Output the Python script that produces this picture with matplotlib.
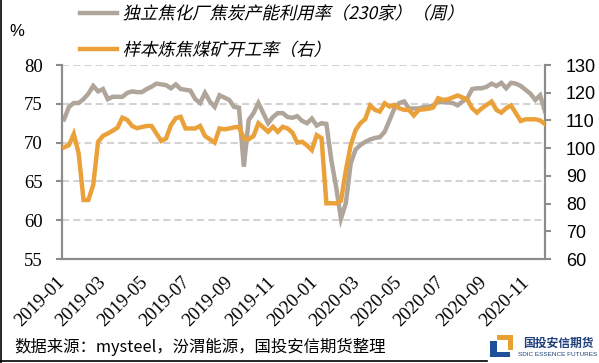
import matplotlib
matplotlib.use("Agg")
import matplotlib.pyplot as plt
import matplotlib.dates as mdates
from matplotlib.lines import Line2D
from matplotlib.patches import Rectangle
from matplotlib.patheffects import AbstractPathEffect
from matplotlib.transforms import Affine2D
import pandas as pd

plt.rcParams['font.family'] = ['Noto Sans CJK SC', 'DejaVu Sans']

# ---- data ----
start_date = '2019-01-04'
n_weeks = 100
coke_util = [73.0, 74.6, 75.1, 75.1, 75.6, 76.3, 77.3, 76.6, 76.9, 75.6,
             75.9, 75.9, 75.9, 76.4, 76.6, 76.5, 76.5, 76.9, 77.2, 77.6,
             77.5, 77.4, 77.0, 77.5, 76.9, 76.8, 76.7, 75.6, 75.1, 76.4,
             75.3, 74.6, 76.1, 75.8, 75.5, 74.6, 74.5, 66.9, 72.9, 73.8,
             75.1, 73.8, 72.5, 73.3, 73.8, 73.8, 73.3, 73.2, 73.4, 72.8,
             72.5, 73.1, 72.2, 72.5, 72.4, 67.8, 64.3, 60.2, 62.2, 67.3,
             69.1, 69.7, 70.1, 70.4, 70.6, 70.7, 71.4, 72.9, 74.4, 75.1,
             75.3, 74.4, 74.4, 74.4, 74.6, 74.6, 74.8, 75.3, 75.2, 75.2,
             75.1, 74.8, 75.3, 75.7, 76.9, 77.0, 77.0, 77.2, 77.6, 77.3,
             77.7, 77.0, 77.7, 77.6, 77.3, 76.8, 76.3, 75.5, 76.1, 74.0]
mine_util = [100.3, 101.1, 105.1, 98.1, 81.3, 81.3, 86.7, 102.3, 104.4, 105.3,
             106.3, 107.4, 111.0, 110.2, 108.0, 107.2, 107.6, 108.0, 108.0, 105.3,
             102.6, 103.5, 108.3, 110.8, 111.3, 107.1, 107.1, 107.1, 108.0, 104.4,
             103.2, 102.0, 107.1, 106.8, 107.1, 107.5, 107.7, 103.5, 103.2, 104.4,
             109.0, 107.5, 105.9, 107.7, 105.9, 107.7, 107.1, 105.6, 102.0, 102.3,
             101.0, 99.3, 104.7, 103.6, 80.1, 80.1, 80.1, 81.0, 92.0, 101.0,
             106.5, 109.0, 110.5, 115.4, 113.8, 113.2, 116.2, 115.0, 115.6, 114.4,
             113.8, 113.8, 111.8, 113.8, 114.0, 114.2, 114.7, 118.0, 117.4, 117.6,
             118.3, 119.0, 118.3, 117.6, 114.4, 112.8, 114.4, 115.6, 116.8, 113.8,
             112.8, 114.4, 115.4, 112.6, 109.8, 110.4, 110.4, 110.4, 110.0, 108.7]
left_ticks = [55, 60, 65, 70, 75, 80]
right_ticks = [60, 70, 80, 90, 100, 110, 120, 130]
label_gray = '独立焦化厂焦炭产能利用率（230家）（周）'
label_orange = '样本炼焦煤矿开工率（右）'
source_text = '数据来源：mysteel，汾渭能源，国投安信期货整理'

dates = pd.date_range(start_date, periods=n_weeks, freq='7D')

GRAY = '#AFA59B'
ORANGE = '#EBA13A'
AXC = '#8C8C8C'


class Slant(AbstractPathEffect):
    """Draw text path with a slight shear (synthetic italic)."""
    def __init__(self, deg=13):
        super().__init__()
        self._sk = Affine2D().skew_deg(deg, 0)

    def draw_path(self, renderer, gc, tpath, affine, rgbFace=None):
        renderer.draw_path(gc, tpath, self._sk + affine, rgbFace)


fig = plt.figure(figsize=(5.99, 3.63), dpi=100)
W, H = 599, 363
ax = fig.add_axes([62 / W, 1 - 259 / H, (545 - 62) / W, (259 - 65) / H])
ax2 = ax.twinx()

l1, = ax.plot(dates, coke_util, color=GRAY, lw=3.2, solid_joinstyle='miter', zorder=3)
l2, = ax2.plot(dates, mine_util, color=ORANGE, lw=3.2, solid_joinstyle='miter', zorder=3)

ax.set_ylim(55, 80)
ax2.set_ylim(60, 130)
ax.set_yticks(left_ticks)
ax2.set_yticks(right_ticks)
ax.set_xlim(pd.Timestamp('2019-01-01'), pd.Timestamp('2020-11-27'))

ax.xaxis.set_major_locator(mdates.MonthLocator(bymonth=[1, 3, 5, 7, 9, 11]))
ax.xaxis.set_major_formatter(mdates.DateFormatter('%Y-%m'))

ax.grid(axis='y', color='#D3D3D3', lw=1.5, linestyle=(0, (3.4, 2.0)))
ax.set_axisbelow(True)

for a in (ax, ax2):
    a.spines['top'].set_visible(False)
    for s in ('left', 'right', 'bottom'):
        a.spines[s].set_color(AXC)
        a.spines[s].set_linewidth(1.5)

ax.tick_params(axis='y', direction='out', length=4, width=1.5, color=AXC, pad=10)
ax2.tick_params(axis='y', direction='out', length=4, width=1.5, color=AXC, pad=11)
ax.tick_params(axis='x', length=0, pad=15)

for t in ax.get_yticklabels():
    t.set_fontfamily('Liberation Serif')
    t.set_fontsize(13.5)
for t in ax2.get_yticklabels():
    t.set_fontfamily('Liberation Sans')
    t.set_fontsize(13)
for t in ax.get_xticklabels():
    t.set_fontfamily('Liberation Serif')
    t.set_fontsize(13.5)
    t.set_rotation(45)
    t.set_ha('right')
    t.set_va('center')
    t.set_rotation_mode('anchor')

leg = fig.legend([l1, l2], [label_gray, label_orange], loc='upper left',
                 bbox_to_anchor=(80 / W, 1 - 5 / H), frameon=False, fontsize=12.5,
                 handlelength=2.15, handletextpad=0.3, labelspacing=1.06,
                 borderpad=0, borderaxespad=0)
for t in leg.get_texts():
    t.set_path_effects([Slant(13)])

fig.text(17 / W, 1 - 32 / H, '%', fontsize=12, ha='center', va='center',
         fontfamily='Liberation Sans')
fig.text(14 / W, 1 - 347 / H, source_text, fontsize=11.8, ha='left', va='center')

# figure border lines (left & bottom)
fig.add_artist(Line2D([1 / W, 1 / W], [0, 1], color='black', lw=1.2, transform=fig.transFigure))
fig.add_artist(Line2D([0, 487 / W], [2 / H, 2 / H], color='black', lw=1.2, transform=fig.transFigure))

# logo
BLUE = '#1F4E9A'
LOGO_OR = '#E8A030'
def rect(x0, y0, x1, y1, c):
    fig.add_artist(Rectangle((x0 / W, 1 - y1 / H), (x1 - x0) / W, (y1 - y0) / H,
                             color=c, transform=fig.transFigure, lw=0))
rect(497, 335, 513, 340, LOGO_OR)
rect(508, 335, 513, 350, LOGO_OR)
rect(490, 341, 497, 357, BLUE)
rect(490, 352, 510, 357, BLUE)
fig.text(558 / W, 1 - 343 / H, '国投安信期货', fontsize=8.5, color='#1F3F7A',
         ha='center', va='center', fontweight='bold')
fig.text(558 / W, 1 - 354.5 / H, 'SDIC ESSENCE FUTURES', fontsize=4.6, color='#1F3F7A',
         ha='center', va='center', fontfamily='Liberation Sans')

fig.savefig('out.png', dpi=100)
